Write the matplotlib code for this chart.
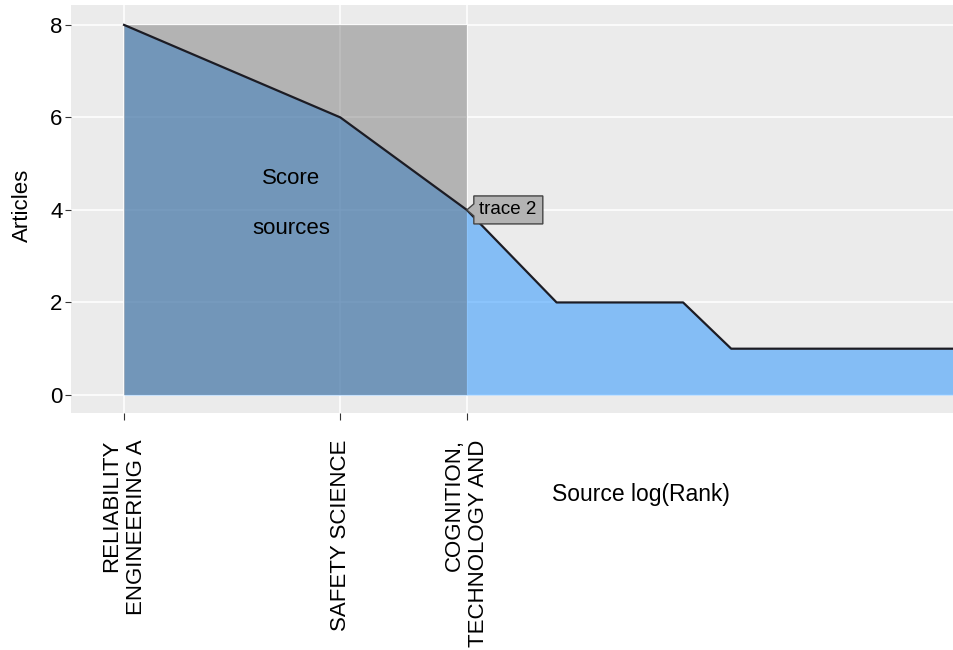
import numpy as np
import matplotlib.pyplot as plt
from matplotlib.patches import Polygon
from matplotlib.transforms import IdentityTransform

plt.rcParams['font.family'] = ['Liberation Sans', 'DejaVu Sans']

# Bradford's law: articles per source, sources sorted by rank
rank = np.arange(1, 16)
articles = [8, 6, 4, 2, 2, 2, 1, 1, 1, 1, 1, 1, 1, 1, 1]
core_labels = ["RELIABILITY\nENGINEERING A", "SAFETY SCIENCE", "COGNITION,\nTECHNOLOGY AND"]
n_core = 3

log_rank = np.log(rank)
core_end = log_rank[n_core - 1]

fig = plt.figure(figsize=(9.54, 6.5), dpi=100)
ax = fig.add_axes([71 / 954, 237 / 650, 883 / 954, 408 / 650])
ax.set_facecolor('#EBEBEB')

# area under the curve and the core-zone rectangle
ax.fill_between(log_rank, 0, articles, color='#1E90FF', alpha=0.5, lw=0, zorder=2)
ax.fill_between([0, core_end], 0, max(articles), color='#555555', alpha=0.373, lw=0, zorder=3)
ax.plot(log_rank, articles, color='#1c1c24', lw=1.6, zorder=4)

ax.set_xlim(-0.170, 2.660)
ax.set_ylim(-0.39, 8.43)
ax.set_xticks(log_rank[:n_core])
ax.set_xticklabels(core_labels, rotation=90, ha='center', va='top',
                   multialignment='right', fontsize=16)
ax.set_yticks([0, 2, 4, 6, 8])
ax.grid(color='white', lw=1.1)
ax.set_axisbelow(True)
for s in ax.spines.values():
    s.set_visible(False)
ax.tick_params(axis='x', length=5, width=0.8, color='#333333', pad=14)
ax.tick_params(axis='y', length=4, width=0.8, color='#333333', pad=2, labelsize=16)

ax.text(core_end / 2 - 0.014, max(articles) / 2 + 0.14, "Score\nsources",
        ha='center', va='center', fontsize=16, linespacing=2.85, zorder=5)

fig.text(22 / 954, 1 - 205 / 650, "Articles", rotation=90, ha='center', va='center', fontsize=16)
fig.text(641 / 954, 1 - 495 / 650, "Source log(Rank)", ha='center', va='center', fontsize=16.5)

# hover-style label pointing at the last core source
px, py = ax.transData.transform((core_end, articles[n_core - 1]))
offs = [(0, 0), (7, 6), (7, 14), (76, 14), (76, -14), (7, -14), (7, -6)]
label_box = Polygon([(px + dx, py + dy) for dx, dy in offs], closed=True,
                    facecolor='#B3B3B3', edgecolor='#444444', lw=1,
                    transform=IdentityTransform(), zorder=6, clip_on=False)
ax.add_patch(label_box)
ax.annotate("trace 2", xy=(core_end, articles[n_core - 1]), xytext=(41, 0),
            textcoords='offset pixels', ha='center', va='center',
            fontsize=13.5, zorder=7, annotation_clip=False)

fig.savefig('out.png', dpi=100)
